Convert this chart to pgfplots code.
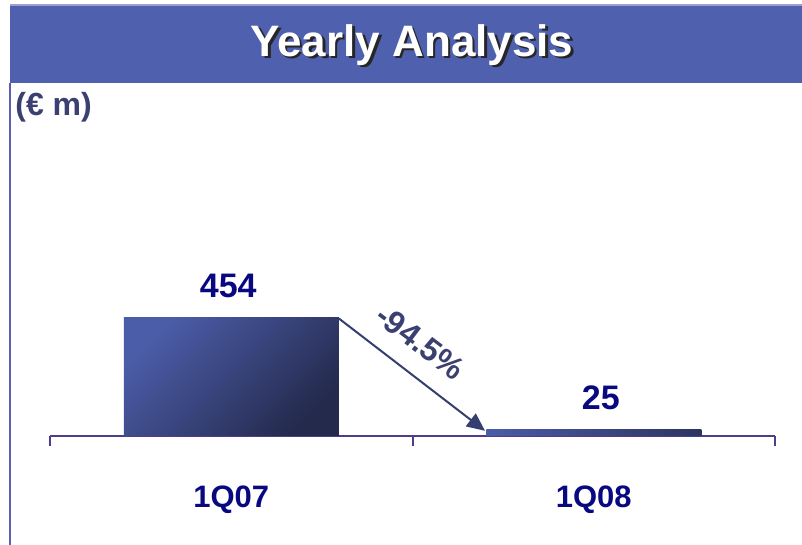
\documentclass[border=0pt]{standalone}
\usepackage{pgfplots}
\pgfplotsset{compat=1.18}
\usepackage{fontspec}
\setmainfont{Liberation Sans}
\usetikzlibrary{arrows.meta}
\definecolor{banner}{RGB}{79,97,174}
\definecolor{bordercol}{RGB}{90,95,176}
\definecolor{axiscol}{RGB}{80,60,140}
\definecolor{navy}{RGB}{8,8,128}
\definecolor{unitcol}{RGB}{58,64,112}
\definecolor{arrowcol}{RGB}{52,62,112}
\definecolor{barlight}{RGB}{75,92,168}
\definecolor{bardark}{RGB}{36,42,76}
\begin{document}
\begin{tikzpicture}
\begin{scope}[x=0.5pt,y=-0.5pt,shift={(0pt,272.5pt)}]
\path[use as bounding box] (0,0) rectangle (802,545);
\fill[banner] (10,5) rectangle (802,83);
\draw[color=bordercol!60, line width=0.6pt] (10,5) -- (802,5);
\draw[color=bordercol, line width=0.9pt] (10,83) -- (10,545);
\node[text=black!85, font=\bfseries\fontsize{22}{26}\selectfont] at (414.5,47.5) {Yearly Analysis};
\node[text=white, font=\bfseries\fontsize{22}{26}\selectfont] at (412,45) {Yearly Analysis};
\node[anchor=west, text=unitcol, font=\bfseries\fontsize{16}{19}\selectfont, inner sep=0pt] at (15,107) {(€ m)};
\end{scope}
\begin{axis}[
  at={(25pt,54.5pt)}, anchor=south west,
  scale only axis, width=362.5pt, height=129.96pt,
  xmin=-0.5, xmax=1.5, ymin=0, ymax=1000,
  enlargelimits=false, clip=false,
  axis y line=none, axis x line*=bottom,
  x axis line style={color=axiscol, line width=1pt},
  xtick={0,1}, xticklabels={1Q07,1Q08},
  major tick length=0pt,
  xticklabel style={anchor=center, yshift=-32pt, text=navy, font=\bfseries\fontsize{15.5}{18}\selectfont},
  extra x ticks={-0.5,0.5,1.5}, extra x tick labels={},
  extra x tick style={major tick length=5pt, tick align=outside, tick style={line width=1pt, color=axiscol}},
  /pgf/number format/assume math mode=true,
  nodes near coords,
  every node near coord/.append style={anchor=center, yshift=16pt, text=navy, font=\bfseries\fontsize{17}{20}\selectfont},
]
\addplot[ybar, bar width=107.5pt, bar shift=0pt, draw=none, top color=barlight, bottom color=bardark, shading angle=45,
  every node near coord/.append style={xshift=-1.5pt}] coordinates {(0,454)};
\addplot[ybar, bar width=107.5pt, bar shift=0pt, draw=none, left color=barlight, right color=bardark!80!barlight,
  every node near coord/.append style={xshift=3.5pt}] coordinates {(1,25)};
\draw[arrowcol, line width=1pt, -{Triangle[length=9pt, width=8pt]}] (axis cs:0.297,452) -- (axis cs:0.70,20);
\node[text=unitcol, rotate=-37, inner sep=0pt, font=\bfseries\fontsize{16}{19}\selectfont] at (axis cs:0.522,362) {-94.5\%};
\end{axis}
\end{tikzpicture}
\end{document}
